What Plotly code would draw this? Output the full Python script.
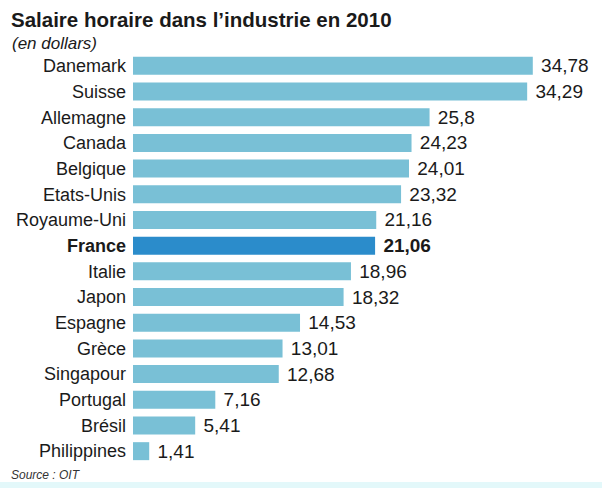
import plotly.graph_objects as go

countries = ["Danemark", "Suisse", "Allemagne", "Canada", "Belgique", "Etats-Unis",
             "Royaume-Uni", "France", "Italie", "Japon", "Espagne", "Grèce",
             "Singapour", "Portugal", "Brésil", "Philippines"]
wages = [34.78, 34.29, 25.8, 24.23, 24.01, 23.32, 21.16, 21.06, 18.96, 18.32,
         14.53, 13.01, 12.68, 7.16, 5.41, 1.41]
highlight = "France"

BAR = "#79c0d6"
BAR_HI = "#2b8ccb"
FONT = "Liberation Sans, Arial, sans-serif"
W, H = 602, 488
L, R, T, B = 133, 0, 53, 24

colors = [BAR_HI if c == highlight else BAR for c in countries]
texts = [str(v).replace(".", ",") for v in wages]
texts = ["\u00a0" + (f"<b>{t}</b>" if c == highlight else t)
         for c, t in zip(countries, texts)]
ticktext = [f"<b>{c}</b>" if c == highlight else c for c in countries]

fig = go.Figure(go.Bar(
    y=countries,
    x=wages,
    orientation="h",
    marker=dict(color=colors, line=dict(width=0)),
    text=texts,
    textposition="outside",
    constraintext="none",
    textfont=dict(family=FONT, size=19, color="#1a1a1a"),
    cliponaxis=False,
    width=0.7,
))


def px_x(x):
    return (x - L) / (W - L - R)


def px_y(y):
    return 1 - (y - T) / (H - T - B)


fig.update_layout(
    width=W, height=H,
    margin=dict(l=L, r=R, t=T, b=B),
    paper_bgcolor="white",
    plot_bgcolor="white",
    showlegend=False,
    font=dict(family=FONT, color="#1a1a1a"),
    xaxis=dict(range=[0, 40.8], visible=False, fixedrange=True),
    yaxis=dict(
        categoryorder="array", categoryarray=countries[::-1],
        tickmode="array", tickvals=countries, ticktext=ticktext,
        tickfont=dict(family=FONT, size=18, color="#1a1a1a"),
        ticks="", showline=False, showgrid=False, ticklabelstandoff=6,
    ),
    annotations=[
        dict(text="<b>Salaire horaire dans l\u2019industrie en 2010</b>",
             x=px_x(9), y=px_y(20), xref="paper", yref="paper", showarrow=False,
             xanchor="left", yanchor="middle",
             font=dict(family=FONT, size=20.5, color="#1a1a1a")),
        dict(text="<i>(en dollars)</i>",
             x=px_x(10), y=px_y(44), xref="paper", yref="paper", showarrow=False,
             xanchor="left", yanchor="middle",
             font=dict(family=FONT, size=17, color="#1a1a1a")),
        dict(text="<i>Source : OIT</i>",
             x=px_x(9), y=px_y(475), xref="paper", yref="paper", showarrow=False,
             xanchor="left", yanchor="middle",
             font=dict(family=FONT, size=12, color="#333333")),
    ],
)

# pale band along the bottom edge
fig.add_shape(type="rect", xref="paper", yref="paper",
              x0=px_x(0), x1=1, y0=px_y(488), y1=px_y(482),
              fillcolor="#e3f8fa", line=dict(width=0), layer="below")

fig.write_html("out.html")
